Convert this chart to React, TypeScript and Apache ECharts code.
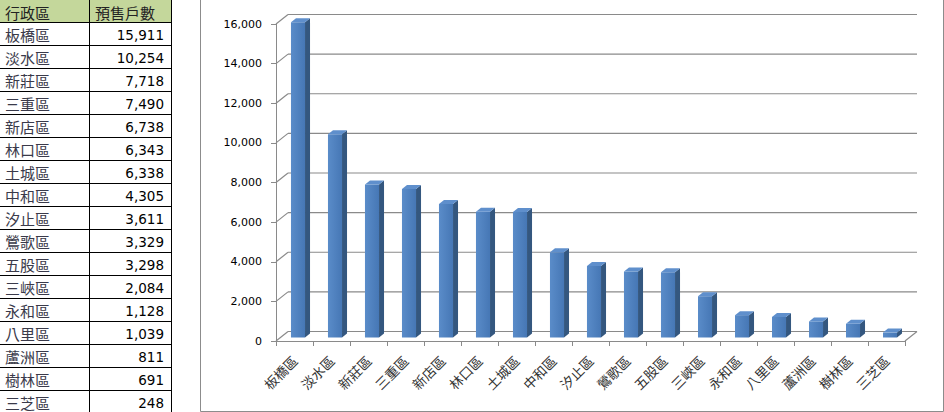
import React, { useEffect, useRef } from "react";
import * as echarts from "echarts";

const headerLabels = ["行政區", "預售戶數"];
const districts = [
  "板橋區", "淡水區", "新莊區", "三重區", "新店區", "林口區", "土城區", "中和區", "汐止區",
  "鶯歌區", "五股區", "三峽區", "永和區", "八里區", "蘆洲區", "樹林區", "三芝區",
];
const presaleUnits = [
  15911, 10254, 7718, 7490, 6738, 6343, 6338, 4305, 3611, 3329, 3298, 2084, 1128, 1039, 811, 691, 248,
];
const yTicks = [0, 2000, 4000, 6000, 8000, 10000, 12000, 14000, 16000];

const fmt = (v: number) => v.toLocaleString("en-US");

export default function App() {
  const ref = useRef<HTMLDivElement>(null);
  useEffect(() => {
    if (!ref.current) return;
    const chart = echarts.init(ref.current, null, { renderer: "svg" });

    // 3D layout constants (style, not data)
    const WALL_DX = 12;
    const WALL_DY = -9.5;
    const BAR_OX = 3.5;
    const BAR_OY = -3.5;
    const BAR_DX = 5;
    const BAR_DY = -4;
    const GRID_COLOR = "#8a8a8a";

    // table via graphic
    const rowH = 23;
    const headH = 22;
    const colX = [0, 89, 171];
    const tableEls: any[] = [];
    tableEls.push({
      type: "rect",
      shape: { x: 0, y: 0, width: colX[2], height: headH },
      style: { fill: "#C4D79B" },
      silent: true,
    });
    tableEls.push({
      type: "text",
      x: 5, y: headH / 2 + 1,
      style: { text: headerLabels[0], fontSize: 15, fontFamily: "Noto Sans CJK TC", fill: "#222", verticalAlign: "middle", align: "left" },
    });
    tableEls.push({
      type: "text",
      x: 95, y: headH / 2 + 1,
      style: { text: headerLabels[1], fontSize: 15, fontFamily: "Noto Sans CJK TC", fill: "#222", verticalAlign: "middle", align: "left" },
    });
    districts.forEach((d, i) => {
      const top = headH + i * rowH;
      const cy = top + rowH / 2 + 1;
      tableEls.push({
        type: "text",
        x: 5, y: cy,
        style: { text: d, fontSize: 15, fontFamily: "Noto Sans CJK TC", fill: "#3a3a4a", verticalAlign: "middle", align: "left" },
      });
      tableEls.push({
        type: "text",
        x: 164, y: cy,
        style: { text: fmt(presaleUnits[i]), fontSize: 13.5, fontFamily: "DejaVu Sans", fill: "#000", verticalAlign: "middle", align: "right" },
      });
    });
    // horizontal lines
    for (let i = 0; i <= districts.length; i++) {
      const y = headH + i * rowH + 0.5;
      tableEls.push({
        type: "line",
        shape: { x1: 0, y1: y, x2: colX[2], y2: y },
        style: { stroke: "#000", lineWidth: 1 },
      });
    }
    // vertical lines
    [colX[1], colX[2]].forEach((x) => {
      tableEls.push({
        type: "line",
        shape: { x1: x + 0.5, y1: 0, x2: x + 0.5, y2: 420 },
        style: { stroke: "#000", lineWidth: 1 },
      });
    });
    // chart frame
    tableEls.push({
      type: "rect",
      shape: { x: 200.5, y: -5, width: 743, height: 416.5 },
      style: { fill: "none", stroke: "#8c8c8c", lineWidth: 1 },
      silent: true,
    });

    const option: any = {
      animation: false,
      backgroundColor: "#ffffff",
      grid: { left: 276, top: 24, width: 629, height: 317, containLabel: false },
      xAxis: {
        type: "category",
        data: districts,
        axisLine: { show: true, lineStyle: { color: GRID_COLOR, width: 1 } },
        axisTick: { show: true, length: 5, lineStyle: { color: GRID_COLOR } },
        axisLabel: {
          rotate: 45,
          margin: 17,
          interval: 0,
          fontSize: 13.5,
          fontFamily: "Noto Sans CJK TC",
          color: "#333",
        },
        splitLine: { show: false },
      },
      yAxis: {
        type: "value",
        min: 0,
        max: 16000,
        interval: 2000,
        axisLine: { show: true, lineStyle: { color: GRID_COLOR, width: 1 } },
        axisTick: { show: true, length: 5, lineStyle: { color: GRID_COLOR } },
        axisLabel: {
          margin: 14,
          fontSize: 11,
          fontFamily: "DejaVu Sans",
          color: "#000",
          formatter: (v: number) => fmt(v),
        },
        splitLine: { show: false },
      },
      graphic: tableEls,
      series: [
        {
          type: "custom",
          name: "walls",
          clip: false,
          z: 1,
          silent: true,
          data: yTicks.map((v) => [0, v]),
          renderItem: (params: any, api: any) => {
            const cs = params.coordSys;
            const y = api.coord([0, api.value(1)])[1];
            const children: any[] = [
              {
                type: "line",
                shape: { x1: cs.x, y1: y, x2: cs.x + WALL_DX, y2: y + WALL_DY },
                style: { stroke: GRID_COLOR, lineWidth: 1.2 },
              },
              {
                type: "line",
                shape: { x1: cs.x + WALL_DX, y1: y + WALL_DY, x2: cs.x + cs.width + WALL_DX, y2: y + WALL_DY },
                style: { stroke: GRID_COLOR, lineWidth: 1.2 },
              },
            ];
            if (api.value(1) === 0) {
              children.push({
                type: "line",
                shape: { x1: cs.x + cs.width, y1: y, x2: cs.x + cs.width + WALL_DX, y2: y + WALL_DY },
                style: { stroke: GRID_COLOR, lineWidth: 1.2 },
              });
            }
            return { type: "group", children };
          },
        },
        {
          type: "custom",
          name: "預售戶數",
          clip: false,
          z: 3,
          data: presaleUnits.map((v, i) => [i, v]),
          renderItem: (params: any, api: any) => {
            const idx = api.value(0);
            const val = api.value(1);
            const base = api.coord([idx, 0]);
            const top = api.coord([idx, val]);
            const bandW = api.size([1, 0])[0];
            const faceW = bandW * 0.38;
            const x0 = base[0] + BAR_OX - faceW / 2;
            const x1 = x0 + faceW;
            const yB = base[1] + BAR_OY;
            const yT = top[1] + BAR_OY;
            return {
              type: "group",
              children: [
                {
                  type: "rect",
                  shape: { x: x0, y: yT, width: faceW, height: yB - yT },
                  style: {
                    fill: new echarts.graphic.LinearGradient(0, 0, 1, 0, [
                      { offset: 0, color: "#5a8cc9" },
                      { offset: 1, color: "#4677b5" },
                    ]),
                  },
                },
                {
                  type: "polygon",
                  shape: { points: [[x1, yT], [x1 + BAR_DX, yT + BAR_DY], [x1 + BAR_DX, yB + BAR_DY], [x1, yB]] },
                  style: { fill: "#34577f" },
                },
                {
                  type: "polygon",
                  shape: { points: [[x0, yT], [x0 + BAR_DX, yT + BAR_DY], [x1 + BAR_DX, yT + BAR_DY], [x1, yT]] },
                  style: { fill: "#5f8fcc" },
                },
              ],
            };
          },
        },
      ],
    };
    chart.setOption(option);
    return () => chart.dispose();
  }, []);
  return (
    <div
      ref={ref}
      style={{ position: "absolute", left: 0, top: 0, width: 944, height: 412, background: "#fff" }}
    />
  );
}
